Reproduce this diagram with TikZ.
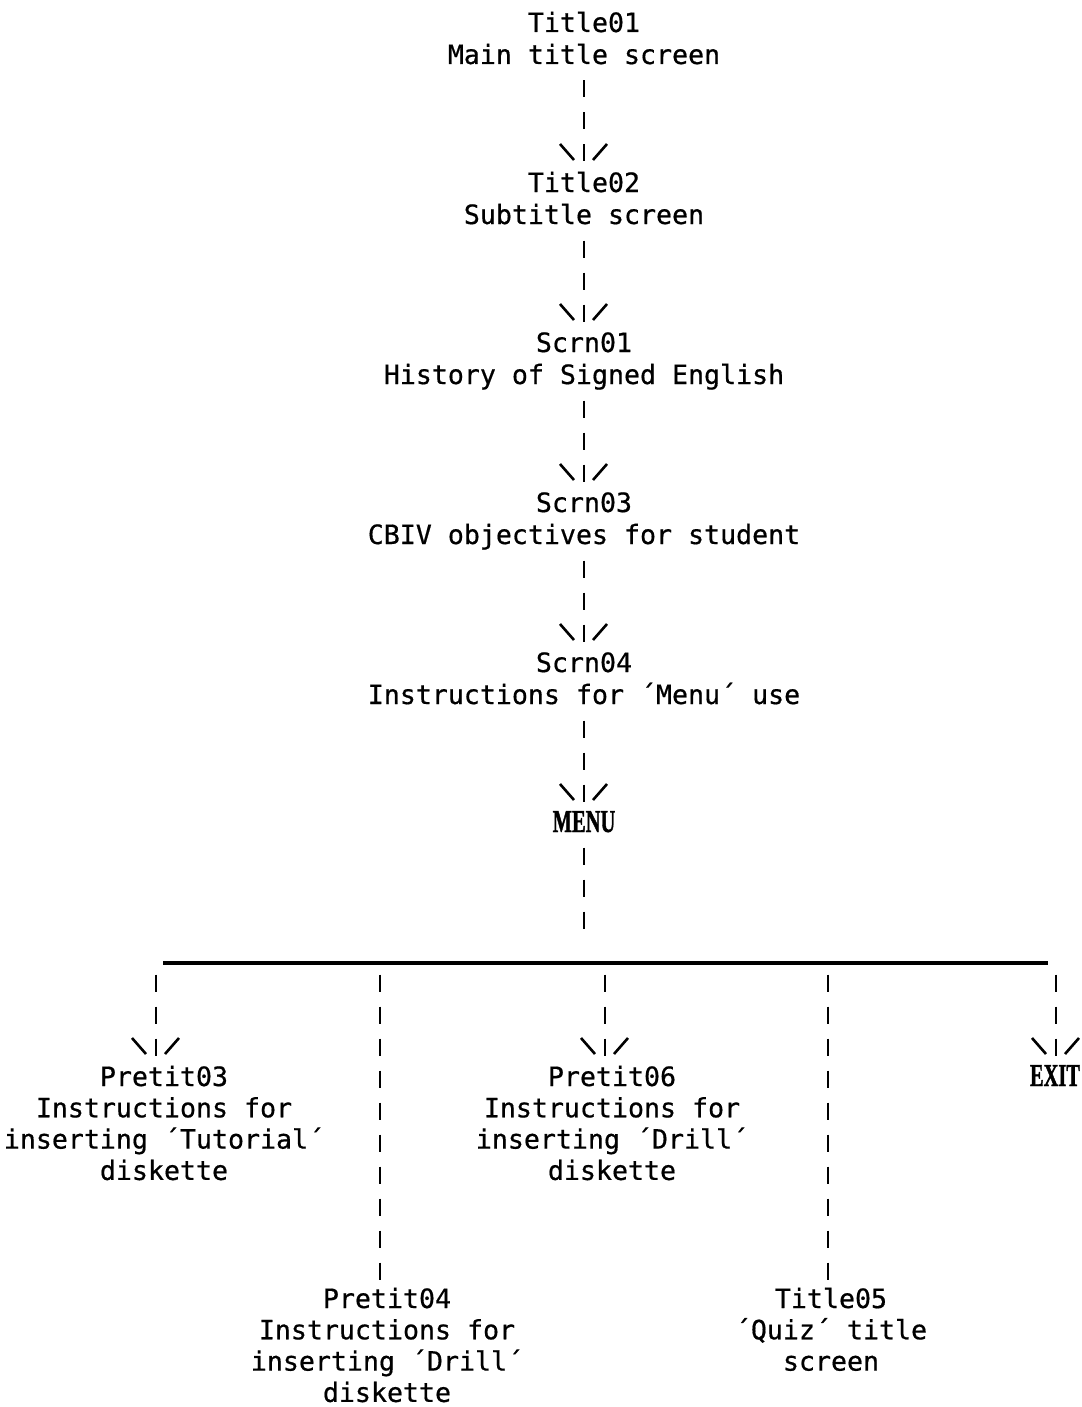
\documentclass[tikz,border=0pt]{standalone}
\usepackage{fontspec}
\usetikzlibrary{calc}
\newfontfamily\typefont[FakeBold=0.6]{DejaVu Sans Mono}
\newfontfamily\headfont[FakeStretch=0.64,FakeBold=1.2]{Liberation Serif}
% one printed line: 24pt above the baseline, 8pt below
\newcommand\lstrut{\rule[-8pt]{0pt}{32pt}}
% fixed line pitch for the multi-line labels
\newcommand\typeset[1]{\typefont\fontsize{26.6}{#1}\selectfont\lineskiplimit -100pt\relax}
% the "\|/" head drawn above a connector's end point
\newcommand\tipmark[1]{%
  \draw[slant] ($#1+(-24,24)$) -- ($#1+(-10,8)$);
  \draw[slant] ($#1+(23,24)$) -- ($#1+(9,8)$);}
\begin{document}
\begin{tikzpicture}[x=1pt,y=1pt,
  screen/.style={font={\typeset{32}},
    align=center, inner sep=0pt, outer sep=0pt, anchor=north},
  screenb/.style={screen, font={\typeset{31.3}}},
  head/.style={font={\headfont\bfseries\fontsize{32}{32}\selectfont},
    inner sep=0pt, outer sep=0pt, anchor=north},
  bar/.style={line width=2.8pt, dash pattern=on 17pt off 15pt},
  slant/.style={line width=2.6pt},
  bus/.style={line width=3.4pt}]

\fill[white] (0,0) rectangle (1081,-1407);
\useasboundingbox (0,0) rectangle (1081,-1407);

% main chain
\node[screen] (t1) at (584,-8)   {\lstrut Title01\\\lstrut Main title screen};
\node[screen] (t2) at (584,-168) {\lstrut Title02\\\lstrut Subtitle screen};
\node[screen] (s1) at (584,-328) {\lstrut Scrn01\\\lstrut History of Signed English};
\node[screen] (s3) at (584,-488) {\lstrut Scrn03\\\lstrut CBIV objectives for student};
\node[screen] (s4) at (584,-648) {\lstrut Scrn04\\\lstrut Instructions for ´Menu´ use};
\node[head]   (menu) at (584,-808) {\lstrut MENU};

\foreach \a/\b in {t1/t2, t2/s1, s1/s3, s3/s4, s4/menu}{
  \draw[bar, dash phase=23.5pt] (\a.south) -- (\b.north);
  \tipmark{(\b.north)}
}

% branch rule
\coordinate (busL) at (163,-963);
\coordinate (busR) at (1048,-963);
\coordinate (hub) at (584,-963);
\draw[bus] (busL) -- (busR);
\draw[line width=2.8pt,
  dash pattern=on 0pt off 7.5pt on 17pt off 15pt on 17pt off 15pt on 17pt off 200pt]
  (menu.south) -- (hub);

\coordinate (d1) at (156,-963);
\coordinate (d2) at (380,-963);
\coordinate (d3) at (605,-963);
\coordinate (d4) at (828,-963);
\coordinate (d5) at (1056,-963);

% menu choices
\node[screenb] (p3) at (164,-1062)
  {\lstrut Pretit03\\\lstrut Instructions for\\\lstrut inserting ´Tutorial´\\\lstrut diskette};
\node[screenb] (p6) at (612,-1062)
  {\lstrut Pretit06\\\lstrut Instructions for\\\lstrut inserting ´Drill´\\\lstrut diskette};
\node[head] (ex) at (1055,-1062) {\lstrut EXIT};
\node[screenb] (p4) at (387,-1284)
  {\lstrut Pretit04\\\lstrut Instructions for\\\lstrut inserting ´Drill´\\\lstrut diskette};
\node[screenb] (t5) at (831,-1284)
  {\lstrut Title05\\\lstrut ´Quiz´ title\\\lstrut screen};

\draw[bar, dash phase=20.5pt] (d1) -- (d1 |- p3.north);
\tipmark{(d1 |- p3.north)}
\draw[bar, dash phase=20.5pt] (d3) -- (d3 |- p6.north);
\tipmark{(d3 |- p6.north)}
\draw[bar, dash phase=20.5pt] (d5) -- (d5 |- ex.north);
\tipmark{(d5 |- ex.north)}
\draw[bar, dash phase=20.5pt] (d2) -- (d2 |- p4.north);
\draw[bar, dash phase=20.5pt] (d4) -- (d4 |- t5.north);
\end{tikzpicture}
\end{document}
